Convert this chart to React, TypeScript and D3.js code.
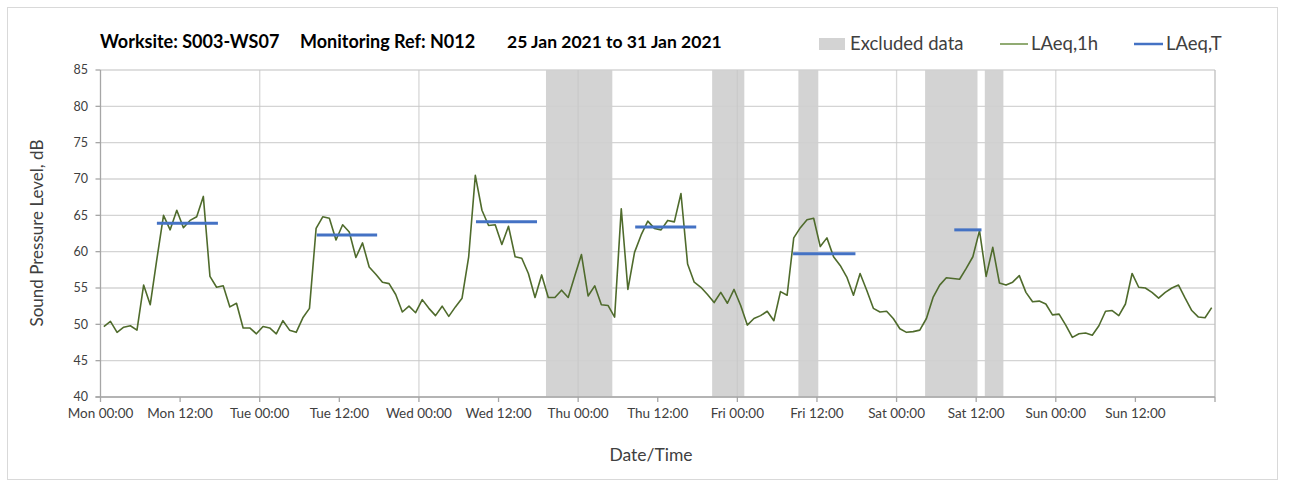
import React from "react";
import * as d3 from "d3";

// ---- Data ----
const dayNames = ["Mon", "Tue", "Wed", "Thu", "Fri", "Sat", "Sun"];
const yTicks = [40, 45, 50, 55, 60, 65, 70, 75, 80, 85];

// Hourly LAeq,1h values (dB), one array per day
const monValues = [49.7, 50.4, 48.9, 49.6, 49.8, 49.2, 55.4, 52.7, 59.0, 65.0, 63.0, 65.7, 63.3, 64.3, 64.8, 67.6, 56.6, 55.1, 55.3, 52.4, 52.9, 49.5, 49.5, 48.7];
const tueValues = [49.7, 49.5, 48.7, 50.5, 49.2, 48.9, 50.9, 52.2, 63.2, 64.8, 64.6, 61.6, 63.7, 62.7, 59.2, 61.2, 57.9, 56.9, 55.8, 55.6, 54.1, 51.7, 52.5, 51.6];
const wedValues = [53.4, 52.2, 51.2, 52.5, 51.1, 52.4, 53.6, 59.3, 70.5, 65.7, 63.6, 63.7, 61.0, 63.5, 59.3, 59.1, 57.0, 53.7, 56.8, 53.7, 53.7, 54.7, 53.7, 56.7];
const thuValues = [59.6, 53.9, 55.3, 52.7, 52.6, 51.0, 65.9, 54.8, 59.9, 62.3, 64.2, 63.2, 63.0, 64.3, 64.1, 68.0, 58.3, 55.8, 55.1, 54.1, 53.0, 54.4, 52.9, 54.8];
const friValues = [52.6, 49.9, 50.8, 51.2, 51.8, 50.5, 54.5, 54.0, 61.9, 63.3, 64.4, 64.6, 60.7, 61.9, 59.3, 58.1, 56.5, 54.0, 57.0, 54.7, 52.2, 51.7, 51.8, 50.8];
const satValues = [49.4, 48.9, 49.0, 49.2, 50.8, 53.7, 55.4, 56.4, 56.3, 56.2, 57.7, 59.3, 62.9, 56.6, 60.6, 55.7, 55.4, 55.8, 56.7, 54.4, 53.1, 53.2, 52.8, 51.3];
const sunValues = [51.4, 49.9, 48.2, 48.7, 48.8, 48.5, 49.8, 51.8, 51.9, 51.2, 52.8, 57.0, 55.1, 55.0, 54.4, 53.6, 54.4, 55.0, 55.4, 53.6, 51.9, 51.0, 50.9, 52.3];

// Excluded data periods (hours from Mon 00:00)
const excludedStart = [67.15, 92.2, 105.2, 124.3, 133.3];
const excludedEnd = [77.15, 97.05, 108.2, 132.2, 136.1];

// LAeq,T periods (hours from Mon 00:00) and levels (dB)
const laeqTStart = [8.5, 32.6, 56.6, 80.6, 104.4, 128.7];
const laeqTEnd = [17.7, 41.7, 65.8, 89.8, 113.8, 132.8];
const laeqTValue = [63.9, 62.3, 64.1, 63.4, 59.7, 63.0];

const titleParts = ["Worksite: S003-WS07", "Monitoring Ref: N012", "25 Jan 2021 to 31 Jan 2021"];

const FONT = "Lato, 'Open Sans', sans-serif";

export default function App() {
  const left = 100.5, right = 1215, top = 70, bottom = 397;
  const x = d3.scaleLinear().domain([0, 168]).range([left, right]);
  const y = d3.scaleLinear().domain([40, 85]).range([bottom, top]);

  const hourly = [monValues, tueValues, wedValues, thuValues, friValues, satValues, sunValues]
    .flat()
    .map((v, i) => ({ t: i + 0.5, v }));
  const line = d3.line<{ t: number; v: number }>().x((d) => x(d.t)).y((d) => y(d.v));

  const xTicks = d3.range(0, 169, 12);
  const dayTicks = d3.range(24, 168, 24);

  return (
    <svg width={1301} height={488} style={{ position: "absolute", left: 0, top: 0 }} fontFamily={FONT}>
      <rect x={0} y={0} width={1301} height={488} fill="#fff" />
      <rect x={7.5} y={7.5} width={1270} height={472} fill="none" stroke="#d9d9d9" />

      {/* excluded bands */}
      {excludedStart.map((s, i) => (
        <rect key={"ex" + i} x={x(s)} y={top} width={x(excludedEnd[i]) - x(s)} height={bottom - top} fill="#d3d3d3" />
      ))}

      {/* horizontal gridlines */}
      {yTicks.map((t) => (
        <line key={"hg" + t} x1={left} x2={right} y1={y(t)} y2={y(t)} stroke="#d0d0d0" strokeWidth={1.3} opacity={0.9} />
      ))}
      {/* vertical gridlines at day boundaries */}
      {dayTicks.map((t) => (
        <line key={"vg" + t} x1={x(t)} x2={x(t)} y1={top} y2={bottom} stroke="#c8c8c8" strokeWidth={1.3} opacity={0.7} />
      ))}
      <line x1={right} x2={right} y1={top} y2={bottom} stroke="#bfbfbf" strokeWidth={1.3} />

      {/* axes */}
      <line x1={left} x2={left} y1={top} y2={bottom} stroke="#a6a6a6" strokeWidth={1.3} />
      <line x1={left - 5} x2={right} y1={bottom} y2={bottom} stroke="#a6a6a6" strokeWidth={1.3} />
      {yTicks.map((t) => (
        <g key={"yt" + t}>
          <line x1={left - 5} x2={left} y1={y(t)} y2={y(t)} stroke="#a6a6a6" strokeWidth={1.3} />
          <text x={88} y={y(t)} dy="0.35em" textAnchor="end" fontSize={12.5} fill="#404040">{t}</text>
        </g>
      ))}
      {xTicks.map((t) => (
        <g key={"xt" + t}>
          <line x1={x(t)} x2={x(t)} y1={bottom} y2={bottom + 5} stroke="#a6a6a6" strokeWidth={1.3} />
          {t < 168 && (
            <text x={x(t)} y={418} textAnchor="middle" fontSize={13.5} fill="#404040">
              {dayNames[Math.floor(t / 24)] + (t % 24 === 0 ? " 00:00" : " 12:00")}
            </text>
          )}
        </g>
      ))}

      {/* LAeq,1h line */}
      <path d={line(hourly) || ""} fill="none" stroke="#4f6b2c" strokeWidth={1.6} strokeLinejoin="round" />

      {/* LAeq,T segments */}
      {laeqTStart.map((s, i) => (
        <line key={"lt" + i} x1={x(s)} x2={x(laeqTEnd[i])} y1={y(laeqTValue[i])} y2={y(laeqTValue[i])} stroke="#4472c4" strokeWidth={3} />
      ))}

      {/* axis titles */}
      <text transform="translate(43,233) rotate(-90)" textAnchor="middle" fontSize={17} fill="#404040">Sound Pressure Level, dB</text>
      <text x={651} y={461} textAnchor="middle" fontSize={17.5} fill="#404040">Date/Time</text>

      {/* title */}
      <text x={100} y={48} fontSize={18} fontWeight="bold" fill="#000">{titleParts[0]}</text>
      <text x={300} y={48} fontSize={18} fontWeight="bold" fill="#000">{titleParts[1]}</text>
      <text x={507} y={48} fontSize={17.5} fontWeight="bold" fill="#000">{titleParts[2]}</text>

      {/* legend */}
      <rect x={819} y={38} width={26} height={12} fill="#d3d3d3" />
      <text x={850} y={50} fontSize={18.5} fill="#404040">Excluded data</text>
      <line x1={1000} x2={1028} y1={44} y2={44} stroke="#6d8f45" strokeWidth={1.5} />
      <text x={1031} y={50} fontSize={18.5} fill="#404040">LAeq,1h</text>
      <line x1={1134} x2={1163} y1={44} y2={44} stroke="#4472c4" strokeWidth={2.5} />
      <text x={1166} y={50} fontSize={18.5} fill="#404040">LAeq,T</text>
    </svg>
  );
}
